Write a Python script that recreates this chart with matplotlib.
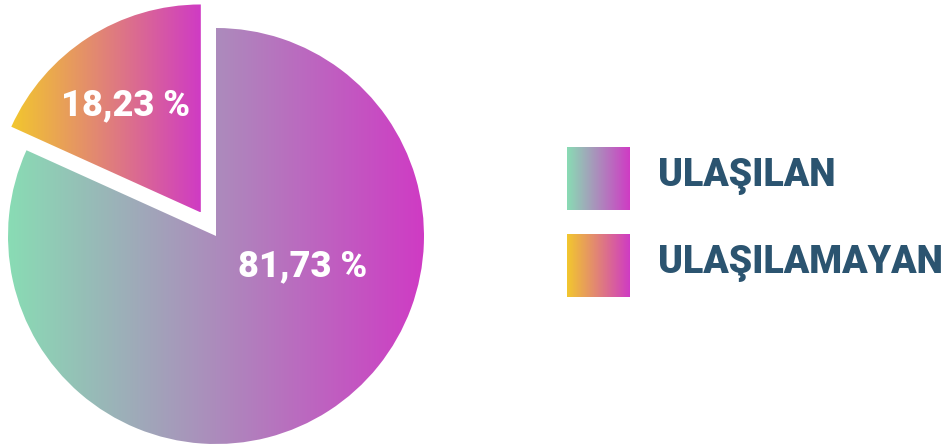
import matplotlib
matplotlib.use("Agg")
import matplotlib.pyplot as plt
import numpy as np
from matplotlib.colors import LinearSegmentedColormap

labels = ["ULAŞILAN", "ULAŞILAMAYAN"]
values = [81.73, 18.23]
value_text = ["81,73 %", "18,23 %"]
grad_start = ["#89dcb4", "#f2c72e"]
grad_end = ["#cf3bc4", "#cf3bc4"]

W, H = 949, 448
fig = plt.figure(figsize=(W / 100, H / 100), dpi=100)
ax = fig.add_axes([0, 0, 1, 1])

cx, cy, r = 216, 212, 208
wedges, _ = ax.pie(values, center=(cx, cy), radius=r, startangle=90,
                   counterclock=False, explode=[0, 28],
                   wedgeprops=dict(linewidth=0))

ax.set_xlim(0, W)
ax.set_ylim(0, H)
ax.set_aspect("equal")
ax.axis("off")

grad = np.linspace(0, 1, 256).reshape(1, -1)
cmaps = [LinearSegmentedColormap.from_list("g%d" % i, [a, b])
         for i, (a, b) in enumerate(zip(grad_start, grad_end))]

# label spots (angle in deg, fraction of radius) for each wedge
lab_pos = [(-19, 0.44), (125, 0.63)]

for w, cm, txt, (ang, frac) in zip(wedges, cmaps, value_text, lab_pos):
    w.set_facecolor("none")
    ext = w.get_path().get_extents(w.get_patch_transform())
    im = ax.imshow(grad, cmap=cm, aspect="auto", interpolation="bilinear",
                   extent=(ext.x0, ext.x1, ext.y0, ext.y1), zorder=1)
    im.set_clip_path(w)
    wx, wy = w.center
    th = np.deg2rad(ang)
    ax.text(wx + frac * r * np.cos(th), wy + frac * r * np.sin(th), txt,
            color="white", fontsize=26, fontweight="black", family="Roboto",
            ha="center", va="center", zorder=3)

# legend
lx, ly, sq, gap = 567, 448 - 179, 63, 87
for i, (lab, cm) in enumerate(zip(labels, cmaps)):
    yc = ly - i * gap
    ax.imshow(grad, cmap=cm, aspect="auto", interpolation="bilinear",
              extent=(lx, lx + sq, yc - sq / 2, yc + sq / 2), zorder=2)
    ax.text(lx + 91, yc + 3, lab, color="#2b5470", fontsize=27,
            fontweight="black", family="Roboto", ha="left", va="center")

ax.set_xlim(0, W)
ax.set_ylim(0, H)
fig.savefig("out.png", dpi=100)
